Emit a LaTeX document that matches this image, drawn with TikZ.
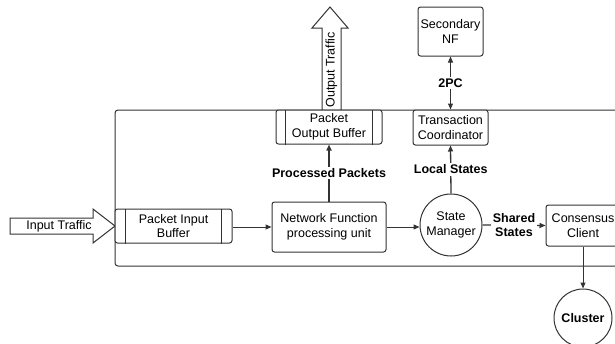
\documentclass[tikz,border=0pt]{standalone}
\usepackage{fontspec}
\setmainfont{Liberation Sans}
\usetikzlibrary{arrows.meta}
\begin{document}
\begin{tikzpicture}[x=1pt,y=-1pt,line width=1pt,draw=black!80,
  font=\fontsize{12.5}{14.5}\selectfont,
  blk/.style={draw=black!80,rounded corners=2.5pt,fill=white,align=center,inner sep=0pt},
  rnd/.style={draw=black!80,circle,fill=white,align=center,inner sep=0pt},
  lbl/.style={font=\fontsize{12.5}{14.5}\selectfont\bfseries,align=center,fill=white,inner sep=1.5pt},
  tip/.style={-{Triangle[length=6pt,width=5pt]}}]
\clip (0,0) rectangle (615,343);
% outer frame
\draw[rounded corners=3pt] (115,110) rectangle (660,266);
% block arrows
\draw[fill=white] (10,218)--(93,218)--(93,209)--(115,226)--(93,243)--(93,234)--(10,234)--cycle;
\node (intr) at (59,226) {Input Traffic};
\draw[fill=white] (322,110)--(322,28)--(312,28)--(330,7)--(348,28)--(341,28)--(341,110)--cycle;
\node[rotate=90] (outtr) at (331.5,70) {Output Traffic};
% boxes
\node[blk,minimum width=117pt,minimum height=34pt] (inbuf) at (173.5,226) {Packet Input\\Buffer};
\draw ([xshift=11pt]inbuf.north west)--([xshift=11pt]inbuf.south west);
\draw ([xshift=-11pt]inbuf.north east)--([xshift=-11pt]inbuf.south east);
\node[blk,minimum width=114pt,minimum height=50pt] (nfu) at (329,227) {Network Function\\processing unit};
\node[rnd,minimum size=62pt] (sm) at (451,225) {State\\Manager};
\node[blk,minimum width=74pt,minimum height=41pt] (cc) at (583,225.5) {Consensus\\Client};
\node[rnd,minimum size=58pt] (cl) at (583,318) {\bfseries Cluster};
\node[blk,minimum width=106pt,minimum height=34pt] (outbuf) at (329,127) {Packet\\Output Buffer};
\draw ([xshift=10pt]outbuf.north west)--([xshift=10pt]outbuf.south west);
\draw ([xshift=-10pt]outbuf.north east)--([xshift=-10pt]outbuf.south east);
\node[blk,minimum width=75pt,minimum height=35pt] (tc) at (450.5,127.5) {Transaction\\Coordinator};
\node[blk,minimum width=65pt,minimum height=49pt] (snf) at (450.5,31.5) {Secondary\\NF};
% connectors
\draw[tip] (inbuf.east|-0,227)--(nfu.west|-0,227);
\draw[tip] (nfu.east|-0,227)--(sm.west|-0,227);
\draw[tip,line width=1.6pt] (nfu.north)--node[lbl]{Processed Packets}(outbuf.south);
\draw[tip,line width=1.3pt] (sm.north)--node[lbl]{Local States}(tc.south);
\draw[{Triangle[length=6pt,width=5pt]}-{Triangle[length=6pt,width=5pt]}] (snf.south)--node[lbl]{2PC}(tc.north);
\draw[tip,line width=1.3pt] (sm.east)--node[lbl]{Shared\\States}(cc.west);
\draw[tip] (cc.south)--(cl.north);
\end{tikzpicture}
\end{document}
